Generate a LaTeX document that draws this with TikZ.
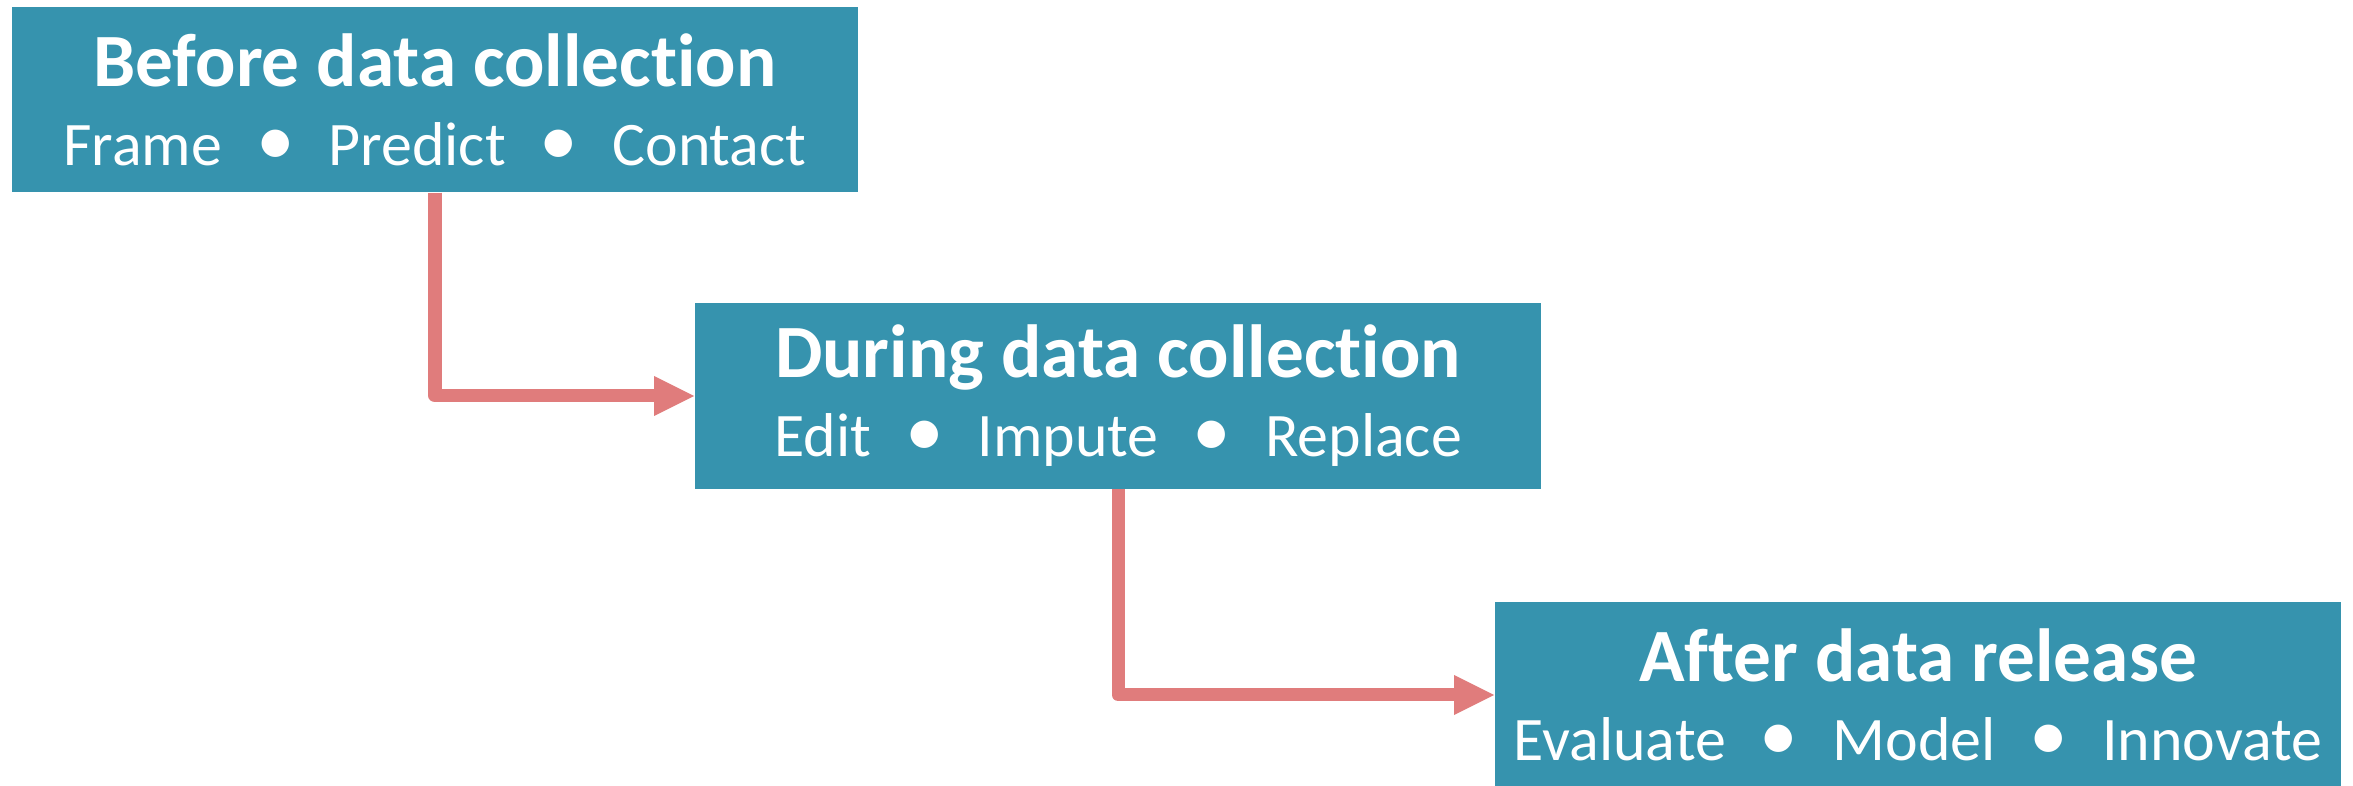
\documentclass[tikz,border=0pt]{standalone}
\usepackage{fontspec}
\setmainfont{Carlito}[Ligatures={NoCommon,NoContextual}]
\usetikzlibrary{arrows.meta}
\definecolor{stageteal}{RGB}{54,147,174}
\definecolor{flowred}{RGB}{211,68,68}
\newcommand{\stagedot}{\hspace{0.55em}\scalebox{1.25}{\textbullet}\hspace{0.55em}}
\newcommand{\stagetitle}[1]{{\bfseries\fontsize{21.4}{26}\selectfont #1}}

\begin{document}
\begin{tikzpicture}[x=0.01cm,y=-0.01cm,
	stagebox/.style={fill=stageteal,text=white,minimum width=8.46cm,minimum height=1.85cm,
		inner sep=0pt,align=center,font=\fontsize{17.6}{22.5}\selectfont},
	flow/.style={draw=flowred,opacity=0.7,line width=0.13cm,line join=round,
		-{Triangle[length=0.4cm,width=0.4cm,line width=0pt]}}]
	\useasboundingbox (0,0) rectangle (2353,786);

	\node[stagebox] (before) at (435,99.5) {\stagetitle{Before data collection}\\Frame\stagedot Predict\stagedot Contact};
	\node[stagebox] (during) at (1118,396) {\stagetitle{During data collection}\\Edit\stagedot Impute\stagedot Replace};
	\node[stagebox] (after) at (1918,695) {\stagetitle{After data release}\\Evaluate\stagedot Model\stagedot Innovate};

	% connectors
	\draw[flow] (before.south) |- (during.west);
	\draw[flow] (during.south) |- (after.west);
\end{tikzpicture}
\end{document}
